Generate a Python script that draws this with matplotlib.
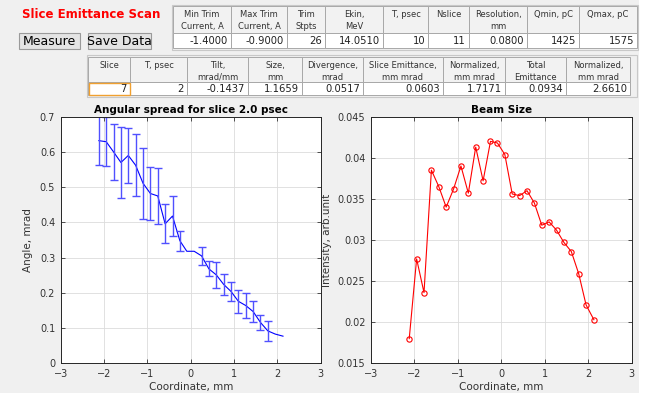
import matplotlib
matplotlib.use("Agg")
import matplotlib.pyplot as plt
import numpy as np
from matplotlib.patches import Rectangle

# ---- data ----
coord_mm = [-2.12, -1.95, -1.78, -1.61, -1.44, -1.27, -1.10, -0.93, -0.76, -0.59,
            -0.42, -0.25, -0.09, 0.08, 0.25, 0.42, 0.59, 0.76, 0.93, 1.10,
            1.27, 1.44, 1.61, 1.78, 1.95, 2.13]
angle_mrad = [0.632, 0.629, 0.600, 0.570, 0.590, 0.562, 0.511, 0.482, 0.475, 0.396,
              0.418, 0.348, 0.318, 0.318, 0.305, 0.268, 0.251, 0.224, 0.204, 0.176,
              0.164, 0.147, 0.116, 0.092, 0.083, 0.077]
angle_err = [0.070, 0.070, 0.079, 0.102, 0.078, 0.088, 0.101, 0.075, 0.080, 0.055,
             0.058, 0.028, np.nan, np.nan, 0.025, 0.021, 0.037, 0.029, 0.026, 0.032,
             0.036, 0.031, 0.021, 0.029, np.nan, np.nan]
beam_intensity = [0.0180, 0.0277, 0.0236, 0.0385, 0.0365, 0.0340, 0.0362, 0.0390, 0.0357, 0.0413,
                  0.0372, 0.0420, 0.0418, 0.0404, 0.0356, 0.0354, 0.0360, 0.0345, 0.0318, 0.0322,
                  0.0312, 0.0297, 0.0286, 0.0259, 0.0221, 0.0203]

scan_headers = [("Min Trim", "Current, A"), ("Max Trim", "Current, A"), ("Trim", "Stpts"),
                ("Ekin,", "MeV"), ("T, psec", ""), ("Nslice", ""), ("Resolution,", "mm"),
                ("Qmin, pC", ""), ("Qmax, pC", "")]
scan_values = ["-1.4000", "-0.9000", "26", "14.0510", "10", "11", "0.0800", "1425", "1575"]

slice_headers = [("Slice", ""), ("T, psec", ""), ("Tilt,", "mrad/mm"), ("Size,", "mm"),
                 ("Divergence,", "mrad"), ("Slice Emittance,", "mm mrad"),
                 ("Normalized,", "mm mrad"), ("Total", "Emittance"), ("Normalized,", "mm mrad")]
slice_values = ["7", "2", "-0.1437", "1.1659", "0.0517", "0.0603", "1.7171", "0.0934", "2.6610"]

W, H = 647, 393
BG = "#f0f0f0"
TXT = "#333333"


def px_axes(x0, y0, x1, y1):
    # pixel box (y from top) -> figure fraction rect
    return [x0 / W, 1 - y1 / H, (x1 - x0) / W, (y1 - y0) / H]


def draw_table(ax, edges, y_top, y_mid, y_bot, headers, values, frame=None):
    if frame is not None:
        ax.add_patch(Rectangle((frame[0], frame[1]), frame[2] - frame[0], frame[3] - frame[1],
                               fc="none", ec="#c8c8c8", lw=0.8))
    for i, (h, v) in enumerate(zip(headers, values)):
        xa, xb = edges[i], edges[i + 1]
        ax.add_patch(Rectangle((xa, y_top), xb - xa, y_mid - y_top, fc="#f2f2f2", ec="#a8a8a8", lw=0.7))
        ax.add_patch(Rectangle((xa, y_mid), xb - xa, y_bot - y_mid, fc="white", ec="#a8a8a8", lw=0.7))
        xc = (xa + xb) / 2
        ax.text(xc, y_top + 8.5, h[0], ha="center", va="center", fontsize=6, color="#333333")
        if h[1]:
            ax.text(xc, y_top + 20.5, h[1], ha="center", va="center", fontsize=6, color="#333333")
        ax.text(xb - 3, (y_mid + y_bot) / 2 + 0.5, v, ha="right", va="center", fontsize=7.2, color="#222222")


fig = plt.figure(figsize=(W / 100, H / 100), dpi=100, facecolor=BG)

# overlay in pixel coordinates for the GUI parts
ui = fig.add_axes([0, 0, 1, 1])
ui.set_xlim(0, W)
ui.set_ylim(H, 0)
ui.axis("off")
ui.add_patch(Rectangle((639, 0), 8, H, fc="white", ec="none"))

ui.text(22, 15, "Slice Emittance Scan", color="red", fontsize=8.5, fontweight="bold",
        ha="left", va="center")
for label, xa, xb in [("Measure", 19, 80), ("Save Data", 88, 151)]:
    ui.add_patch(Rectangle((xa, 33), xb - xa, 16, fc="#e4e4e4", ec="#9a9a9a", lw=0.8))
    ui.text((xa + xb) / 2, 41.5, label, ha="center", va="center", fontsize=9, color="black")

draw_table(ui, [173, 231, 287, 325, 383, 428, 469, 527, 579, 637], 6, 33, 48,
           scan_headers, scan_values, frame=(172, 5, 638, 50))
draw_table(ui, [88, 130, 187, 248, 302, 363, 443, 505, 566, 630], 57, 82, 95,
           slice_headers, slice_values, frame=(87, 55, 637, 97))
# selected cell
ui.add_patch(Rectangle((89, 82.5), 41, 12.5, fc="none", ec="#f0a030", lw=1.0))


def style_axes(ax):
    ax.set_facecolor("white")
    ax.grid(True, color="#dcdcdc", lw=0.6)
    ax.set_axisbelow(True)
    for s in ax.spines.values():
        s.set_color("#262626")
        s.set_linewidth(0.7)
    ax.tick_params(direction="in", top=True, right=True, length=3, width=0.6,
                   labelsize=7, colors=TXT, pad=4)


# left: angular spread
ax1 = fig.add_axes(px_axes(60.7, 116.7, 320.7, 363.3))
style_axes(ax1)
ax1.plot(coord_mm, angle_mrad, color="blue", lw=0.8)
ax1.errorbar(coord_mm, angle_mrad, yerr=angle_err, fmt="none", ecolor="#5050ff",
             elinewidth=1.0, capsize=2.6, capthick=1.0)
ax1.set_xlim(-3, 3)
ax1.set_ylim(0, 0.7)
ax1.set_xticks(np.arange(-3, 4, 1))
ax1.set_yticks(np.arange(0, 0.71, 0.1))
ax1.set_yticklabels(["0", "0.1", "0.2", "0.3", "0.4", "0.5", "0.6", "0.7"])
ax1.set_xlabel("Coordinate, mm", fontsize=7.5, color=TXT, labelpad=2)
ax1.set_ylabel("Angle, mrad", fontsize=7.5, color=TXT, labelpad=5)
ax1.set_title("Angular spread for slice 2.0 psec", fontsize=7.5, fontweight="bold", pad=3)

# right: beam size
ax2 = fig.add_axes(px_axes(371, 116.7, 631.7, 363.3))
style_axes(ax2)
ax2.plot(coord_mm, beam_intensity, color="red", lw=0.8, marker="o", ms=3.8,
         mfc="none", mec="red", mew=0.8)
ax2.set_xlim(-3, 3)
ax2.set_ylim(0.015, 0.045)
ax2.set_xticks(np.arange(-3, 4, 1))
ax2.set_yticks([0.015, 0.02, 0.025, 0.03, 0.035, 0.04, 0.045])
ax2.set_yticklabels(["0.015", "0.02", "0.025", "0.03", "0.035", "0.04", "0.045"])
ax2.set_xlabel("Coordinate, mm", fontsize=7.5, color=TXT, labelpad=2)
ax2.set_ylabel("Intensity, arb.unit", fontsize=7.5, color=TXT, labelpad=4)
ax2.set_title("Beam Size", fontsize=7.5, fontweight="bold", pad=3)

fig.savefig("out.png", dpi=100, facecolor=BG)
